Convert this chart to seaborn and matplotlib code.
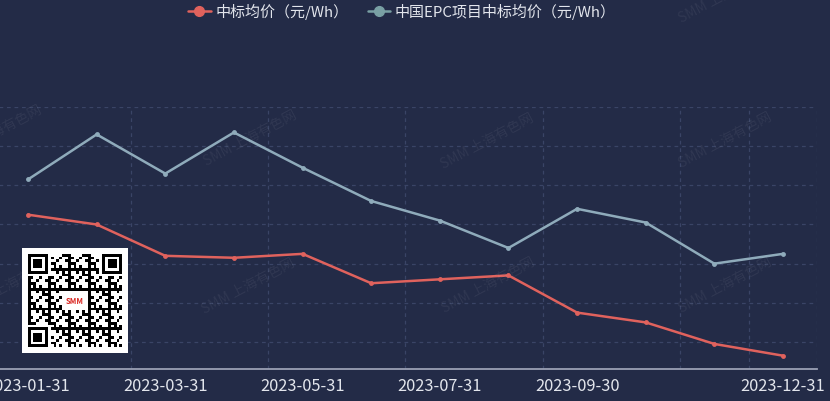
import matplotlib
matplotlib.use("Agg")
import matplotlib.pyplot as plt
import seaborn as sns
import pandas as pd
import numpy as np
from matplotlib.lines import Line2D

# ---------------- data ----------------
months = ["2023-01-31", "2023-02-28", "2023-03-31", "2023-04-30", "2023-05-31", "2023-06-30",
          "2023-07-31", "2023-08-31", "2023-09-30", "2023-10-31", "2023-11-30", "2023-12-31"]
series_names = ["中标均价（元/Wh）", "中国EPC项目中标均价（元/Wh）"]
bid_price = [1.45, 1.40, 1.24, 1.23, 1.25, 1.10, 1.12, 1.14, 0.95, 0.90, 0.79, 0.73]
epc_price = [1.63, 1.86, 1.66, 1.87, 1.69, 1.52, 1.42, 1.28, 1.48, 1.41, 1.20, 1.25]
shown_labels = ["2023-01-31", "2023-03-31", "2023-05-31", "2023-07-31", "2023-09-30", "2023-12-31"]
y_grid = [0.8, 1.0, 1.2, 1.4, 1.6, 1.8, 2.0]
watermark = "SMM 上海有色网"

# ---------------- style ----------------
BG = "#232b47"
RED = "#e0625d"
BLUE = "#8fabbb"
GRID = "#3a4466"
AXIS = "#9aa0b4"
TXT = "#e2e5ec"

sns.set_theme(style="dark")
plt.rcParams["font.family"] = ["Noto Sans CJK SC", "DejaVu Sans"]

W, H = 830, 402
fig = plt.figure(figsize=(W / 100, H / 100), dpi=100, facecolor=BG)

x0, x1 = -6.3, 817.3
ytop, ybot = 108, 370
ax = fig.add_axes([x0 / W, (H - ybot) / H, (x1 - x0) / W, (ybot - ytop) / H])
ax.set_facecolor(BG)

df = pd.DataFrame({
    "month": months * 2,
    "value": bid_price + epc_price,
    "series": [series_names[0]] * len(months) + [series_names[1]] * len(months),
})
palette = {series_names[0]: RED, series_names[1]: BLUE}

sns.lineplot(data=df, x="month", y="value", hue="series", hue_order=series_names[::-1],
             palette=palette, marker="o", markersize=3.5, markeredgewidth=0,
             linewidth=1.8, sort=False, legend=False, ax=ax, zorder=5)

ax.set_xlim(-0.5, len(months) - 0.5)
ax.set_ylim(0.662, 2.0)

# grid
for yv in y_grid:
    ax.axhline(yv, color=GRID, lw=0.9, dashes=(3, 3), zorder=1)
boundaries = [1.5, 3.5, 5.5, 7.5, 9.5, 10.5, 11.5]
for xv in boundaries:
    ax.axvline(xv, color=GRID, lw=0.9, dashes=(3, 3), zorder=1)

# axes / ticks
for s in ["top", "right", "left"]:
    ax.spines[s].set_visible(False)
ax.spines["bottom"].set_color(AXIS)
ax.spines["bottom"].set_linewidth(1.3)
ax.set_yticks([])
ax.set_xlabel("")
ax.set_ylabel("")
ax.set_xticks([months.index(m) for m in shown_labels])
ax.set_xticklabels(shown_labels)
ax.set_xticks([1.5, 3.5, 5.5, 7.5, 9.5, 11.5], minor=True)
ax.tick_params(axis="x", which="major", length=0, pad=6, labelsize=11.8, labelcolor=TXT)
ax.tick_params(axis="x", which="minor", length=4.5, width=1.0, color=AXIS, direction="out")

# legend
handles = [Line2D([0], [0], color=RED, lw=1.8, marker="o", markersize=7),
           Line2D([0], [0], color="#79a0a4", lw=1.8, marker="o", markersize=7)]
leg = fig.legend(handles, series_names, loc="center", bbox_to_anchor=(402 / W, 1 - 12 / H),
                 ncol=2, frameon=False, fontsize=10.8, handlelength=1.5, handletextpad=0.3,
                 columnspacing=1.3, labelcolor=TXT)

# watermarks
wm_pos = [(-5, 133), (250, 138), (487, 141), (725, 140),
          (10, 285), (248, 286), (488, 285), (725, 285), (725, -5)]
for (px, py) in wm_pos:
    fig.text(px / W, 1 - py / H, watermark, rotation=28, ha="center", va="center",
             fontsize=10, color="white", alpha=0.06, zorder=0)

# QR-code style badge
qax = fig.add_axes([22 / W, (H - 354) / H, 106 / W, 105 / H], zorder=10)
n = 33
qr = np.zeros((n, n))
ii, jj = np.meshgrid(np.arange(n), np.arange(n), indexing="ij")
qr[((ii * 7 + jj * 13 + ii * jj * 3) % 7) < 3] = 1
def finder(r, c):
    qr[r:r + 8, c:c + 8] = 0
    qr[r:r + 7, c:c + 7] = 1
    qr[r + 1:r + 6, c + 1:c + 6] = 0
    qr[r + 2:r + 5, c + 2:c + 5] = 1
finder(0, 0); finder(0, n - 7); finder(n - 7, 0)
qr[0:8, n - 8] = 0; qr[n - 8, 0:8] = 0
qr[13:20, 12:21] = 0
img = np.ones((n + 4, n + 4))
img[2:-2, 2:-2] = 1 - qr
qax.imshow(img, cmap="gray", vmin=0, vmax=1, interpolation="nearest", aspect="auto")
qax.text((n + 4) / 2 - 0.5, (n + 4) / 2 - 0.5, "SMM", color="#d9231d", fontsize=5.5,
         fontweight="bold", ha="center", va="center")
qax.set_axis_off()

fig.savefig("out.png", dpi=100, facecolor=BG)
